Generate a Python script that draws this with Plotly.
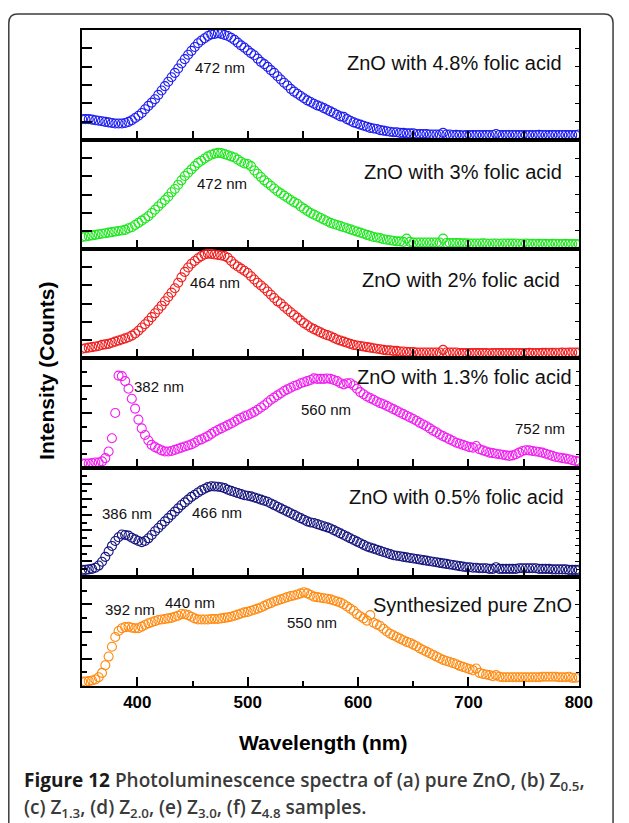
import plotly.graph_objects as go

# Emission wavelength grid (nm)
wavelength = list(range(350, 801, 3))

# PL intensity of each sample, in % of its panel height
zno_48 = [
    19, 19, 19, 18.5, 18, 17.5, 17, 16.5, 16, 15.5,
    15, 15, 15, 15.5, 16.5, 18, 20, 22, 24.5, 28,
    31, 34, 37, 41, 45, 49, 53, 57, 61, 65,
    69.5, 73.5, 77.5, 81, 84.5, 88, 90.5, 92.5, 94.5, 96,
    96.5, 97, 96.5, 95.5, 94.5, 93, 91, 88.5, 86, 84,
    81.5, 79, 77, 74, 71, 69, 66.5, 63.5, 61, 58,
    55, 52, 49.5, 46.5, 44, 42, 40, 38, 36, 34.5,
    33, 31.5, 30.5, 29, 27.5, 26, 24.5, 23, 21.5, 21,
    19, 17.5, 16, 15, 14, 13, 12, 11, 10.5, 10,
    9, 8.5, 8, 7.5, 7, 7, 6.5, 6.5, 6, 6,
    6, 5.5, 5.5, 5.5, 5.5, 5, 5, 5, 5, 6.5,
    5, 5, 4.5, 4.7, 4.5, 4.3, 4.5, 4.6, 4.4, 4.5,
    4.5, 4.4, 4.6, 4.5, 4.5, 5.5, 4.5, 4.4, 4.6, 4.5,
    4.5, 4.6, 4.4, 4.5, 4.5, 4.6, 4.4, 4.5, 4.7, 4.5,
    4.5, 4.4, 4.6, 4.5, 4.5, 4.6, 4.5, 4.4, 4.5, 4.6,
    5,
]
zno_30 = [
    11, 11.5, 12, 12.5, 13, 13.5, 14, 14.5, 15, 15.5,
    16, 16.5, 17, 17.5, 19, 20, 22, 24, 26, 28,
    30, 33, 36, 39, 42, 45, 48, 52, 55, 59,
    63, 67, 70, 73, 76, 79, 81, 83, 85, 86.5,
    87.5, 88.2, 88, 87, 86, 85, 84, 82, 80, 78.5,
    78, 76, 72, 69, 66, 63, 60.5, 58, 55.5, 53,
    51, 49, 47, 45, 43, 41.5, 39, 37, 35, 33,
    31.5, 30, 28.5, 27, 25.5, 24, 23, 22, 21, 20,
    19, 18, 17, 16, 15, 14, 13, 12, 11, 10.5,
    10, 9, 8.5, 8, 7.5, 7, 7, 6.5, 9.5, 6.5,
    6, 6, 6, 6, 6, 6, 6, 6, 6, 9.5,
    5.5, 5.5, 5.5, 5.5, 5.5, 5.2, 5.2, 5, 5, 5,
    5, 5.2, 5, 4.8, 5, 5, 4.8, 5, 5, 4.9,
    4.9, 5, 4.8, 4.8, 5, 4.8, 4.7, 4.8, 4.7, 4.8,
    4.7, 4.6, 4.7, 4.8, 4.6, 4.6, 4.7, 4.6, 4.5, 4.6,
    4.5,
]
zno_20 = [
    8.5, 9, 9.5, 10, 10.5, 11, 12, 12.5, 13, 14,
    15, 16, 17, 18, 19, 20.5, 22.5, 25, 28, 31,
    34, 37.5, 41, 44.5, 48, 52, 56, 60, 64, 69,
    74, 79, 83, 86.5, 89, 91.5, 93.5, 95, 95.6, 95.4,
    95, 94.5, 94, 93.5, 92, 89, 86, 84, 82, 80,
    78, 75, 72, 69, 66.5, 64, 61, 58, 55, 52,
    50, 47, 44.5, 42, 39.5, 37, 34.5, 32, 30, 28,
    26.5, 25, 23.5, 22, 21, 20, 18.5, 17, 16, 15,
    14, 13, 12, 11.5, 11, 10.5, 10, 9.5, 9, 8.5,
    8, 7.5, 7, 7, 6.5, 6.5, 6, 6, 5.5, 5.5,
    5.5, 5, 5, 5, 5, 5, 5, 5, 5, 7.5,
    5, 5, 5, 5, 4.5, 4.5, 4.5, 4.5, 4.5, 4.5,
    4.5, 4.6, 4.5, 4.4, 4.5, 4.6, 4.5, 4.5, 4.6, 4.5,
    4.5, 4.6, 4.5, 4.5, 4.6, 4.7, 4.6, 4.5, 4.6, 4.7,
    4.7, 4.8, 4.7, 4.8, 4.8, 4.9, 4.8, 4.9, 5, 5,
    5,
]
zno_13 = [
    4, 4, 4, 4.5, 5, 5, 6, 9, 15, 27,
    50, 84, 83.5, 79, 72, 63, 54, 44, 36, 30,
    25, 21, 19, 17.5, 16, 15, 15, 15.5, 16.5, 17.5,
    18.5, 19.5, 20.5, 21.5, 23, 25, 26, 27.5, 29, 31,
    33, 34.5, 36, 37.5, 39, 40.5, 42, 44, 45.5, 47,
    48, 49.5, 51, 53, 55, 57, 59.5, 62, 64, 66,
    68, 70, 71.5, 73, 74.5, 75.5, 77, 78, 79, 80,
    81.5, 81, 81, 81, 81.3, 81, 80, 79, 77, 76,
    77, 77, 75, 72, 69, 67, 65, 63.5, 62, 60.5,
    59, 58, 56.5, 55, 53.5, 52, 50.5, 49, 47.5, 46,
    44.5, 43, 41, 39.5, 38, 36, 34, 32.5, 30.5, 29,
    27.5, 26, 24.5, 23, 22, 21, 20, 19, 18.5, 20,
    17, 16, 15, 14, 13.5, 13, 12.5, 12, 11.5, 11,
    11.5, 12.5, 14, 15.5, 16.2, 16, 15.5, 15, 14.5, 14,
    13, 12, 11, 10, 9.5, 9, 8.5, 8, 7, 6.5,
    6,
]
zno_05 = [
    6.5, 6.5, 7, 7.5, 8.5, 10.5, 14, 18.5, 23.5, 28.5,
    33, 36.5, 39, 38.5, 38, 36, 34.5, 33, 32, 33,
    35.5, 38.5, 42, 45, 48, 51, 54, 57, 60, 63,
    66, 68.5, 71, 73.5, 75.5, 77.5, 79.5, 81, 82.5, 83.2,
    83, 82.8, 82.3, 81.5, 80, 79, 78, 77, 76, 75,
    74.5, 74, 73, 72, 71, 70, 69, 67.5, 66, 64.5,
    63, 61.5, 60, 58.5, 57, 55.5, 54, 52.5, 51, 50,
    49.5, 48.5, 47.5, 46.5, 45.5, 44.5, 43, 41.5, 40, 38.5,
    37, 35.5, 34, 32.5, 31, 29.5, 28, 27, 26, 25,
    24, 23, 22, 21, 20, 19.5, 19, 18.5, 18, 17.5,
    17, 16.5, 16, 15.5, 15, 14.5, 14, 13.5, 13, 12.5,
    12, 11.5, 11, 10.5, 10, 9.5, 9, 9, 8.5, 8.5,
    8, 8, 8, 7.5, 7.5, 9, 7.5, 7.5, 7.5, 7.5,
    7.5, 7.5, 8, 8, 8, 8, 8, 8, 7.5, 7.5,
    7.5, 7.5, 7, 7, 7, 7, 7, 6.5, 6.5, 6.5,
    6.5,
]
zno_pure = [
    4, 4, 4.5, 5, 6, 8, 12, 19, 27, 36,
    45, 50.5, 53, 54, 54.3, 53.5, 53, 53, 54.5, 56,
    57.5, 58.5, 59.5, 60.5, 61, 61.5, 62, 62.5, 63.5, 64.5,
    66, 65.8, 65, 63.5, 62, 61, 61, 61, 61, 61.5,
    61.5, 61.5, 62, 62.5, 63, 63.5, 64.5, 65.5, 66.5, 67.5,
    68, 69, 70, 71, 72, 73.5, 75, 76, 77.5, 78.5,
    79.5, 80.5, 81.5, 82.5, 83, 84, 85, 86, 85, 83.5,
    82, 81.5, 81, 80.5, 80, 79.5, 78.5, 77.5, 76.5, 75,
    73, 71, 69, 66, 64, 62, 60, 65, 58, 56.5,
    55, 52.5, 50, 48, 46.5, 45, 43.5, 42, 40.5, 39.5,
    38, 36.5, 34.5, 33, 31.5, 30, 28.5, 27, 25.5, 24,
    23, 22, 21, 20, 18.5, 17.5, 16.5, 15.5, 14.5, 16,
    12, 11, 10.5, 10, 9, 10, 8.5, 8, 8, 8,
    8, 8, 8, 8, 8, 8, 8, 8, 8, 8.5,
    8.5, 8.5, 8.5, 8.5, 8, 8, 8, 8.5, 7.5, 7.5,
    8,
]

# Panels from top to bottom
panel_series = [zno_48, zno_30, zno_20, zno_13, zno_05, zno_pure]
panel_titles = [
    "ZnO with 4.8% folic acid",
    "ZnO with 3% folic acid",
    "ZnO with 2% folic acid",
    "ZnO with 1.3% folic acid",
    "ZnO with 0.5% folic acid",
    "Synthesized pure ZnO",
]
# Peak labels per panel: (text, wavelength, height)
peak_labels = [
    [("472 nm", 475, 66)],
    [("472 nm", 477, 60.5)],
    [("464 nm", 470, 69)],
    [("382 nm", 420, 74.5), ("560 nm", 571, 53), ("752 nm", 765, 35.5)],
    [("386 nm", 391, 58), ("466 nm", 472, 59)],
    [("392 nm", 393, 70), ("440 nm", 448, 77), ("550 nm", 558, 58)],
]
x_ticks = [400, 500, 600, 700, 800]

# ---- styling ----
colors = ["#1e1ef0", "#1ee61e", "#f01e1e", "#f01ef0", "#16167e", "#ff8a10"]
title_pos = [(786.7, 70), (786.7, 70.6), (785, 71.5), (795.6, 83), (788.5, 73), (795.6, 74)]
sixths = [100 * k / 6 for k in range(1, 6)]
eighths_major = [25, 50, 75]
eighths_minor = [12.5, 37.5, 62.5, 87.5]
fourteenths_major = [100 * k / 14 for k in range(2, 13, 2)]
fourteenths_minor = [100 * k / 14 for k in range(1, 14, 2)]
y_major = [sixths, sixths, sixths, eighths_major, fourteenths_major, eighths_major]
y_minor = [[], [], [], eighths_minor, fourteenths_minor, eighths_minor]

W, H = 629, 823
LEFT, RIGHT = 84, 592
edges = [30, 140, 249, 358, 468, 577, 686]
FONT = "Liberation Sans, Arial, Helvetica, sans-serif"


def px(p):
    return p / W


def py(p):
    return 1 - p / H


def ax_name(letter, k):
    return f"{letter}axis" if k == 1 else f"{letter}axis{k}"


def ax_ref(letter, k):
    return letter if k == 1 else f"{letter}{k}"


fig = go.Figure()
layout = dict(
    width=W, height=H,
    margin=dict(l=0, r=0, t=0, b=0),
    paper_bgcolor="white", plot_bgcolor="white",
    showlegend=False,
    font=dict(family=FONT, color="#111"),
)
annotations = []

for i, vals in enumerate(panel_series):
    k = i + 1
    kr = k + 6
    top, bottom = edges[i], edges[i + 1]
    ydom = [py(bottom), py(top)]
    last = k == 6

    fig.add_trace(go.Scatter(
        x=wavelength, y=vals, mode="markers",
        xaxis=ax_ref("x", k), yaxis=ax_ref("y", k),
        marker=dict(symbol="circle-open", size=9, color=colors[i],
                    line=dict(width=1.1, color=colors[i])),
        hoverinfo="skip",
    ))
    # empty trace that carries the right-hand tick axis
    fig.add_trace(go.Scatter(
        x=[None], y=[None], mode="markers",
        xaxis=ax_ref("x", k), yaxis=ax_ref("y", kr),
        hoverinfo="skip",
    ))

    xa = dict(
        domain=[px(LEFT), px(RIGHT)], anchor=ax_ref("y", k),
        range=[350, 800], showgrid=False, zeroline=False,
        showline=True, linewidth=2, linecolor="black", mirror=True,
        ticks="inside", tickwidth=1.5, tickcolor="black",
    )
    if last:
        xa.update(tickmode="array", tickvals=x_ticks, ticklen=9,
                  showticklabels=True,
                  tickfont=dict(family=FONT, size=17, color="black", weight="bold"),
                  minor=dict(tickmode="array", tickvals=[450, 550, 650, 750],
                             ticks="inside", ticklen=5, tickwidth=1.5, tickcolor="black"))
    else:
        xa.update(tickmode="linear", tick0=350, dtick=50, ticklen=9,
                  showticklabels=False)
    layout[ax_name("x", k)] = xa

    ya = dict(
        domain=ydom, anchor=ax_ref("x", k), range=[0, 100],
        showgrid=False, zeroline=False, showline=True, linewidth=2,
        linecolor="black", mirror=True, showticklabels=False,
        ticks="inside", tickmode="array", tickvals=y_major[i],
        ticklen=10, tickwidth=1.5, tickcolor="black",
    )
    if y_minor[i]:
        ya["minor"] = dict(tickmode="array", tickvals=y_minor[i], ticks="inside",
                           ticklen=5, tickwidth=1.5, tickcolor="black")
    layout[ax_name("y", k)] = ya

    yr = dict(
        overlaying=ax_ref("y", k), side="right", anchor=ax_ref("x", k),
        range=[0, 100], showgrid=False, zeroline=False, showline=False,
        showticklabels=False, ticks="inside", tickmode="array",
        tickvals=y_major[i], ticklen=4, tickwidth=1.2, tickcolor="black",
    )
    if y_minor[i]:
        yr["minor"] = dict(tickmode="array", tickvals=y_minor[i], ticks="inside",
                           ticklen=3, tickwidth=1.2, tickcolor="black")
    layout[ax_name("y", kr)] = yr

    tx, ty = title_pos[i]
    annotations.append(dict(
        text=panel_titles[i], x=tx, y=ty, xref=ax_ref("x", k), yref=ax_ref("y", k),
        xanchor="right", yanchor="middle", showarrow=False,
        font=dict(family=FONT, size=20, color="#111"),
    ))
    for txt, lx, ly in peak_labels[i]:
        annotations.append(dict(
            text=txt, x=lx, y=ly, xref=ax_ref("x", k), yref=ax_ref("y", k),
            xanchor="center", yanchor="middle", showarrow=False,
            font=dict(family=FONT, size=15, color="#111"),
        ))

# axis titles
annotations.append(dict(
    text="<b>Intensity (Counts)</b>", x=px(47), y=py(370), xref="paper", yref="paper",
    textangle=-90, showarrow=False, xanchor="center", yanchor="middle",
    font=dict(family=FONT, size=21, color="black"),
))
annotations.append(dict(
    text="<b>Wavelength (nm)</b>", x=px(330), y=py(742), xref="paper", yref="paper",
    showarrow=False, xanchor="center", yanchor="middle",
    font=dict(family=FONT, size=21, color="black"),
))

# figure caption
CAP_FONT = "Open Sans, Noto Sans, sans-serif"
annotations.append(dict(
    text="<b style='color:#1a1a1a'>Figure 12</b> Photoluminescence spectra of (a) pure ZnO, (b) Z<sub>0.5</sub>,",
    x=px(22), y=py(781), xref="paper", yref="paper", showarrow=False,
    xanchor="left", yanchor="middle",
    font=dict(family=CAP_FONT, size=19, color="#3a3a3a", weight=600),
))
annotations.append(dict(
    text="(c) Z<sub>1.3</sub>, (d) Z<sub>2.0</sub>, (e) Z<sub>3.0</sub>, (f) Z<sub>4.8</sub> samples.",
    x=px(22), y=py(808), xref="paper", yref="paper", showarrow=False,
    xanchor="left", yanchor="middle",
    font=dict(family=CAP_FONT, size=19, color="#3a3a3a", weight=600),
))
layout["annotations"] = annotations

# rounded frame around the figure and caption
r = 9
bx0, by0, bx1, by1 = 9, 14, 627, 830
path = (
    f"M {px(bx0)} {py(by1)} L {px(bx0)} {py(by0 + r)} "
    f"Q {px(bx0)} {py(by0)} {px(bx0 + r)} {py(by0)} "
    f"L {px(bx1 - r)} {py(by0)} "
    f"Q {px(bx1)} {py(by0)} {px(bx1)} {py(by0 + r)} "
    f"L {px(bx1)} {py(by1)}"
)
layout["shapes"] = [dict(type="path", path=path, xref="paper", yref="paper",
                         line=dict(color="#3c3c3c", width=1.5))]

fig.update_layout(**layout)
fig.write_html("out.html")
